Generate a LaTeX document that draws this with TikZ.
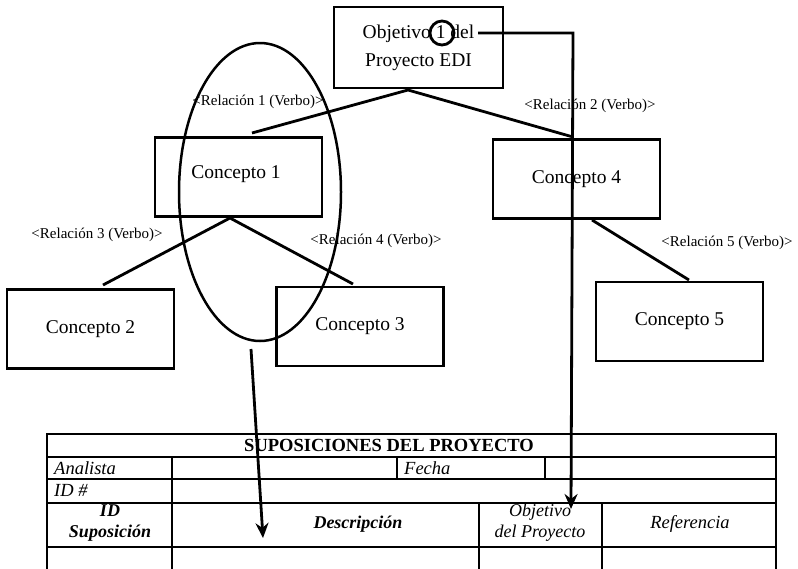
\documentclass[tikz,border=0pt]{standalone}
\usepackage{fontspec}
\setmainfont{Liberation Serif}
\usetikzlibrary{arrows.meta}
\begin{document}
\begin{tikzpicture}[x=1pt,y=-1pt,
  concept/.style={draw,line width=2.8pt,minimum width=167pt,minimum height=79pt,inner sep=0pt,font=\fontsize{19.5}{22}\selectfont},
  link/.style={line width=2.8pt},
  rel/.style={font=\fontsize{15}{17}\selectfont,inner sep=0pt},
  grid/.style={line width=1.3pt},
  cell/.style={inner sep=0pt,font=\fontsize{18.5}{20}\selectfont\itshape},
  bcell/.style={inner sep=0pt,font=\fontsize{18}{20}\selectfont\bfseries\itshape,align=center},
  arr/.style={line width=2.8pt,-{Stealth[length=15pt,width=13pt]}}]
\useasboundingbox (0,0) rectangle (798,568);
% boxes
\node[concept,minimum width=169pt,minimum height=81pt,align=center,font=\fontsize{19.5}{28}\selectfont] (obj) at (418.5,47.5) {Objetivo 1 del\\Proyecto EDI};
\node[concept] (c1) at (238.5,177) {};
\node at (236,174) [font=\fontsize{19.5}{22}\selectfont] {Concepto 1};
\node[concept] (c4) at (576.5,179) {Concepto 4};
\node[concept] (c2) at (90.5,329) {Concepto 2};
\node[concept] (c3) at (360,326.5) {Concepto 3};
\node[concept] (c5) at (679.5,321.5) {Concepto 5};
% connector points
\coordinate (a0) at (408,90);
\coordinate (t1) at (252,133);
\coordinate (t4) at (573,137);
\coordinate (a1) at (230,218);
\coordinate (t2) at (103,285);
\coordinate (t3) at (353,284);
\coordinate (a4) at (592,220);
\coordinate (t5) at (689,280);
\draw[link] (t1) -- (a0) -- (t4);
\draw[link] (t2) -- (a1) -- (t3);
\draw[link] (a4) -- (t5);
% relation labels
\node[rel] (r1) at (258,102) {<Relación 1 (Verbo)>};
\node[rel] (r2) at (590,106) {<Relación 2 (Verbo)>};
\node[rel] (r3) at (97,235) {<Relación 3 (Verbo)>};
\node[rel] (r4) at (376,241) {<Relación 4 (Verbo)>};
\node[rel] (r5) at (727,243) {<Relación 5 (Verbo)>};
% ellipse and circle
\draw[line width=2.5pt] (260,192) ellipse [x radius=81pt, y radius=149pt];
\node[draw,circle,line width=2.8pt,minimum size=24pt,inner sep=0pt] (ring) at (442,33) {};
% table
\draw[grid] (47,434) rectangle (776,570);
\draw[grid] (47,457) -- (776,457);
\draw[grid] (47,479) -- (776,479);
\draw[grid] (47,503) -- (776,503);
\draw[grid] (47,547) -- (776,547);
\draw[grid] (172,457) -- (172,570);
\draw[grid] (397,457) -- (397,479);
\draw[grid] (545,457) -- (545,479);
\draw[grid] (479,503) -- (479,570);
\draw[grid] (602,503) -- (602,570);
\node[inner sep=0pt,font=\fontsize{18.5}{20}\selectfont\bfseries] (title) at (389,445.5) {SUPOSICIONES DEL PROYECTO};
\node[cell,anchor=west] (an) at (54,468) {Analista};
\node[cell,anchor=west] (fe) at (404,468) {Fecha};
\node[cell,anchor=west] (id) at (54,490) {ID \#};
\node[bcell,font=\fontsize{18}{21}\selectfont\bfseries\itshape] (ids) at (110,523) {ID\\Suposición};
\node[bcell] (de) at (358,524) {Descripción};
\node[cell,align=center,font=\fontsize{18}{21}\selectfont\itshape] (ob) at (540,523) {Objetivo\\del Proyecto};
\node[cell] (re) at (690,524) {Referencia};
% arrows
\coordinate (s1) at (251,349);
\coordinate (e1) at (263,538);
\draw[arr] (s1) -- (e1);
\coordinate (s2) at (478,33);
\coordinate (k2) at (573,33);
\coordinate (e2) at (571,509);
\draw[arr] (s2) -- (k2) -- (e2);
\end{tikzpicture}
\end{document}
